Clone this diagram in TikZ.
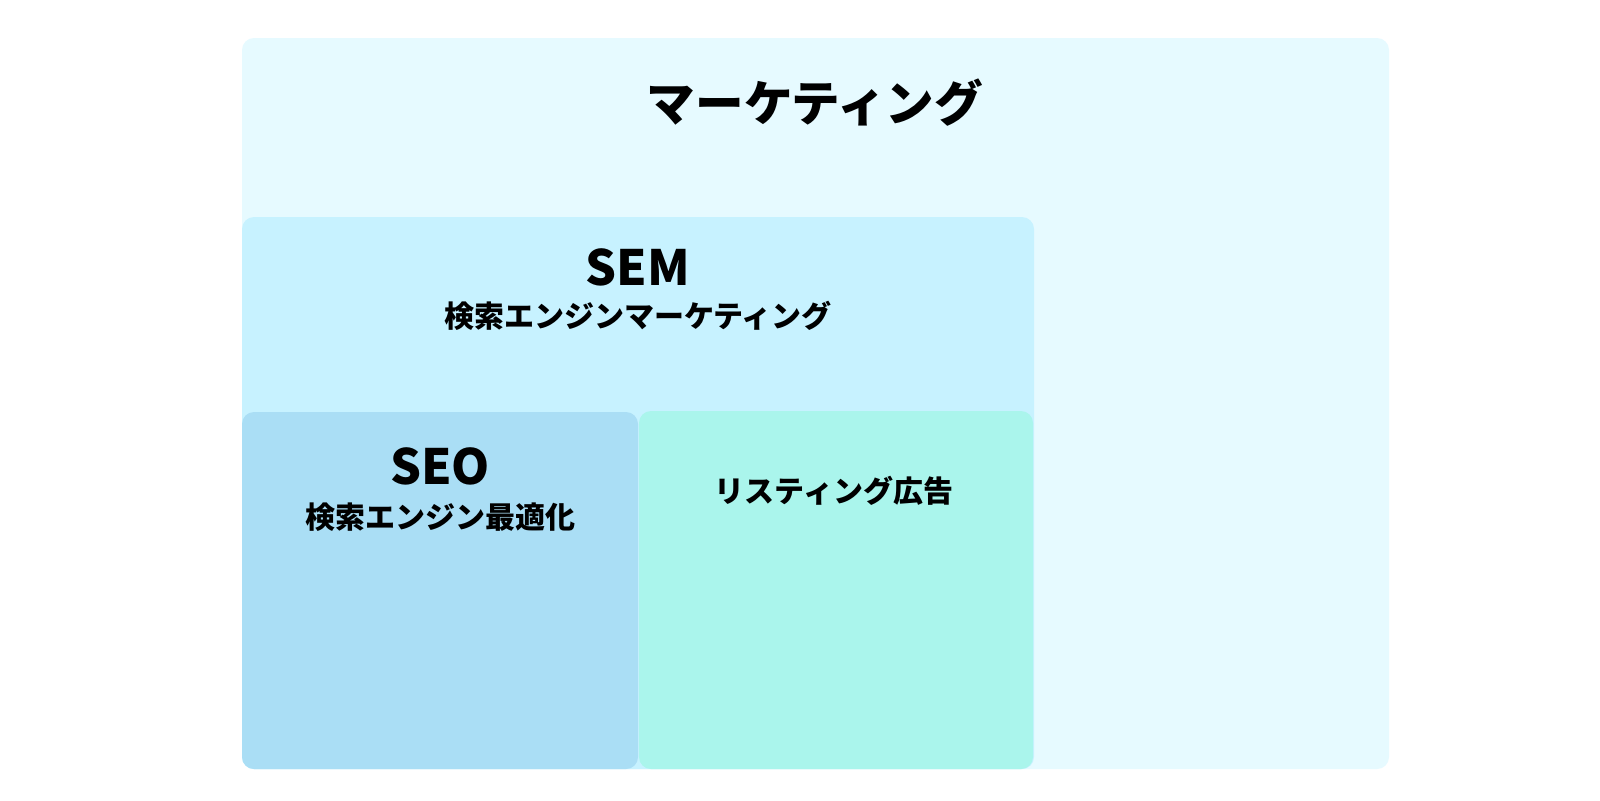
\documentclass[tikz,border=0pt]{standalone}
\usepackage{fontspec}
\setmainfont{Noto Sans CJK JP}
\definecolor{outerc}{RGB}{230,250,255}
\definecolor{semc}{RGB}{199,242,255}
\definecolor{seoc}{RGB}{170,222,245}
\definecolor{listc}{RGB}{170,245,236}
\tikzset{
  panel/.style={rounded corners=6pt, draw=none},
  big/.style={font=\fontsize{24.3pt}{29pt}\selectfont\bfseries, inner sep=0pt},
  sub/.style={font=\fontsize{15pt}{18pt}\selectfont\bfseries, inner sep=0pt},
}
\begin{document}
\begin{tikzpicture}[x=0.5pt,y=-0.5pt]
\useasboundingbox (0,0) rectangle (1600,800);
\fill[white] (0,0) rectangle (1600,800);
\fill[panel, fill=outerc] (242,38) rectangle (1389,769);
\fill[panel, fill=semc] (242,217) rectangle (1034,769);
\fill[panel, fill=seoc] (242,412) rectangle (638,769);
\fill[panel, fill=listc] (639,411) rectangle (1033,769);
\node[big] (title) at (815,103) {マーケティング};
\node[big] (sem) at (638,267) {SEM};
\node[sub] (semsub) at (638,316) {検索エンジンマーケティング};
\node[big] (seo) at (440,466) {SEO};
\node[sub] (seosub) at (440,517) {検索エンジン最適化};
\node[sub] (list) at (834,491) {リスティング広告};
\end{tikzpicture}
\end{document}
